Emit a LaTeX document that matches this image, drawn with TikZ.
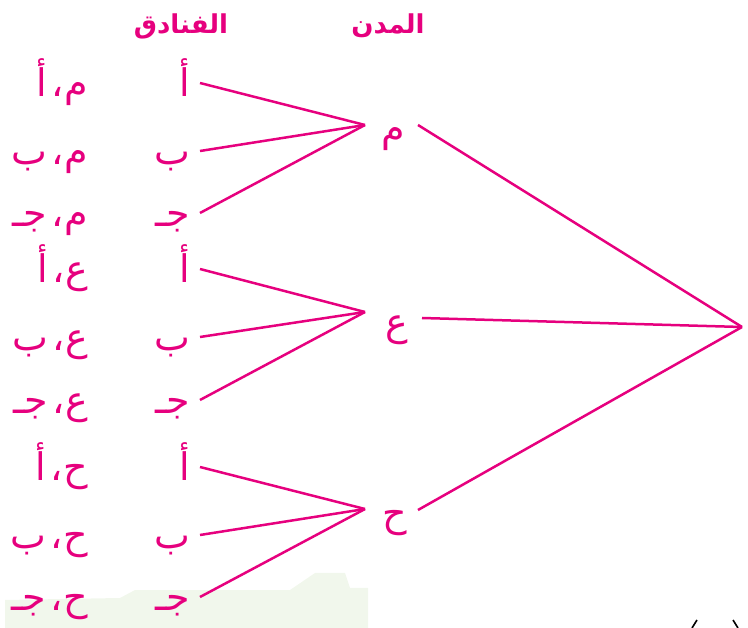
\documentclass[tikz,border=0pt]{standalone}
\usepackage{fontspec}
\TeXXeTstate=1
\newfontfamily\arabicfont[Script=Arabic]{DejaVu Sans}
\usetikzlibrary{calc}
\definecolor{mag}{HTML}{E6007E}
\definecolor{paleleaf}{HTML}{F1F7EC}
\newcommand{\ar}[1]{\beginR #1\endR}
\begin{document}
\begin{tikzpicture}[x=1pt,y=-1pt,
  lbl/.style={inner sep=0pt, text=mag, font=\arabicfont\fontsize{38}{44}\selectfont},
  head/.style={inner sep=0pt, text=mag, font=\arabicfont\bfseries\fontsize{26}{30}\selectfont},
  link/.style={draw=mag, line width=2.5pt}]
\useasboundingbox (0,0) rectangle (748,628);

% faint backdrop at the foot of the page
\fill[paleleaf] (5,628) -- (5,600) -- (120,598) -- (135,590) -- (290,590) -- (315,573)
  -- (345,573) -- (350,588) -- (368,588) -- (368,628) -- cycle;

% column headings
\node[head] (hHotels) at (181,26) {\ar{الفنادق}};
\node[head] (hCities) at (388,26) {\ar{المدن}};

% hotels (right-aligned column) and the resulting pairs
\foreach \i/\y/\h/\c in {1/97/أ/م, 2/165/ب/م, 3/227/جـ/م,
                        4/283/أ/ع, 5/351/ب/ع, 6/414/جـ/ع,
                        7/481/أ/ح, 8/549/ب/ح, 9/611/جـ/ح}{
  \node[lbl, anchor=base east] (h\i) at (190,\y) {\ar{\h}};
  \node[lbl, anchor=base east] (p\i) at (88,\y) {\ar{\c،\hspace{5pt}\h}};
  \coordinate (h\i o) at ($(h\i.base east)+(10,-14)$);
}

% cities
\node[lbl] (cM) at (393,139) {\ar{م}};
\node[lbl] (cA) at (397,330) {\ar{ع}};
\node[lbl] (cH) at (395,523) {\ar{ح}};

\coordinate (cMin)  at ($(cM.center)+(-28,-14)$);
\coordinate (cMout) at ($(cM.center)+(25,-14)$);
\coordinate (cAin)  at ($(cA.center)+(-32,-18)$);
\coordinate (cAout) at ($(cA.center)+(25,-12)$);
\coordinate (cHin)  at ($(cH.center)+(-30,-14)$);
\coordinate (cHout) at ($(cH.center)+(23,-13)$);
\coordinate (root)  at (742,327);

% hotel branches
\foreach \i in {1,2,3}{\draw[link] (h\i o) -- (cMin);}
\foreach \i in {4,5,6}{\draw[link] (h\i o) -- (cAin);}
\foreach \i in {7,8,9}{\draw[link] (h\i o) -- (cHin);}

% city branches
\draw[link] (cMout) -- (root);
\draw[link] (cAout) -- (root);
\draw[link] (cHout) -- (root);

% tops of a bracket pair cut by the page edge
\draw[line width=1.6pt] (692,628) -- (697,620);
\draw[line width=1.6pt] (733,620) -- (738,628);
\end{tikzpicture}
\end{document}
